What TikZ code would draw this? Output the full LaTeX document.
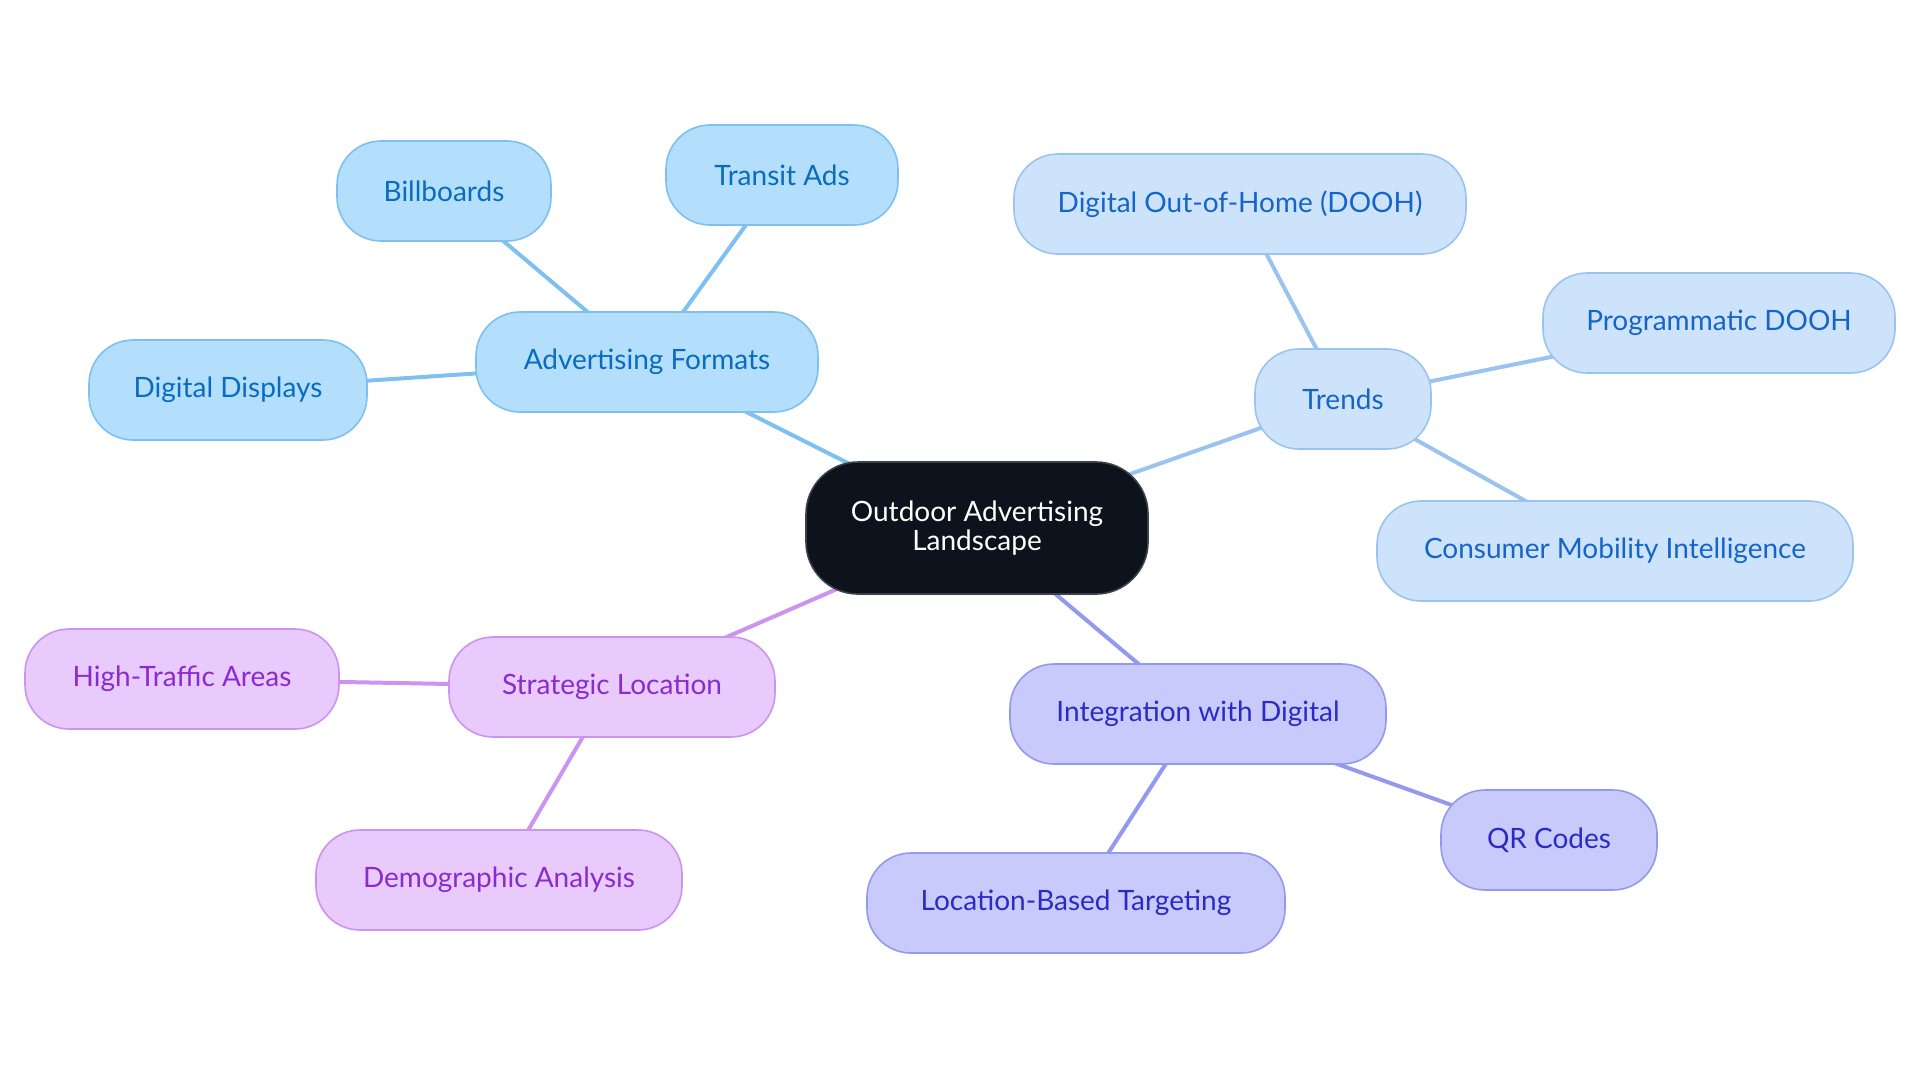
\documentclass[tikz,border=0pt]{standalone}
\usepackage{xcolor}
\usepackage{fontspec}
\setmainfont{Lato}
\usepackage{tikz}
\usetikzlibrary{backgrounds}

\definecolor{rootfill}{HTML}{0D131C}
\definecolor{rootdraw}{HTML}{3C4148}
\definecolor{fmtfill}{HTML}{B3DFFD}
\definecolor{fmtdraw}{HTML}{7EC0F0}
\definecolor{fmttext}{HTML}{0A6BBF}
\definecolor{trdfill}{HTML}{CDE3FC}
\definecolor{trddraw}{HTML}{9BC3F0}
\definecolor{trdtext}{HTML}{1565C8}
\definecolor{digfill}{HTML}{C8CAFC}
\definecolor{digdraw}{HTML}{9499F0}
\definecolor{digtext}{HTML}{2B2BC4}
\definecolor{locfill}{HTML}{E8CAFC}
\definecolor{locdraw}{HTML}{CC94F0}
\definecolor{loctext}{HTML}{8A2BCF}

\tikzset{
  pill/.style={rounded corners=22pt, minimum height=50pt, inner sep=0pt,
    line width=0.8pt, font=\fontsize{14pt}{14.5pt}\selectfont, align=center},
  rootbox/.style={pill, fill=rootfill, draw=rootdraw, text=white, minimum height=66pt, rounded corners=26pt},
  fmtbox/.style={pill, fill=fmtfill, draw=fmtdraw, text=fmttext},
  trdbox/.style={pill, fill=trdfill, draw=trddraw, text=trdtext},
  digbox/.style={pill, fill=digfill, draw=digdraw, text=digtext},
  locbox/.style={pill, fill=locfill, draw=locdraw, text=loctext},
  link/.style={line width=2pt}
}

\begin{document}
\begin{tikzpicture}[x=0.5pt,y=0.5pt,yscale=-1,xscale=1]
\useasboundingbox (0,0) rectangle (1920,1083);

% Root
\node[rootbox, minimum width=171pt] (root) at (977,528) {Outdoor Advertising\\Landscape};

% Advertising Formats
\node[fmtbox, minimum width=171pt] (formats) at (647,362) {Advertising Formats};
\node[fmtbox, minimum width=107pt] (billboards) at (444,191) {Billboards};
\node[fmtbox, minimum width=116pt] (transit) at (782,175) {Transit Ads};
\node[fmtbox, minimum width=139pt] (displays) at (228,390) {Digital Displays};

% Trends
\node[trdbox, minimum width=88pt] (trends) at (1343,399) {Trends};
\node[trdbox, minimum width=226pt] (dooh) at (1240,204) {Digital Out-of-Home (DOOH)};
\node[trdbox, minimum width=176pt] (pdooh) at (1719,323) {Programmatic DOOH};
\node[trdbox, minimum width=238pt] (mobility) at (1615,551) {Consumer Mobility Intelligence};

% Integration with Digital
\node[digbox, minimum width=188pt] (digital) at (1198,714) {Integration with Digital};
\node[digbox, minimum width=108pt] (qr) at (1549,840) {QR Codes};
\node[digbox, minimum width=209pt] (targeting) at (1076,903) {Location-Based Targeting};

% Strategic Location
\node[locbox, minimum width=163pt] (strategic) at (612,687) {Strategic Location};
\node[locbox, minimum width=157pt] (traffic) at (182,679) {High-Traffic Areas};
\node[locbox, minimum width=183pt] (demo) at (499,880) {Demographic Analysis};

% Connectors
\begin{pgfonlayer}{background}
\draw[link, fmtdraw] (root.center) -- (formats.center);
\draw[link, fmtdraw] (formats.center) -- (billboards.center);
\draw[link, fmtdraw] (formats.center) -- (transit.center);
\draw[link, fmtdraw] (formats.center) -- (displays.center);
\draw[link, trddraw] (root.center) -- (trends.center);
\draw[link, trddraw] (trends.center) -- (dooh.center);
\draw[link, trddraw] (trends.center) -- (pdooh.center);
\draw[link, trddraw] (trends.center) -- (mobility.center);
\draw[link, digdraw] (root.center) -- (digital.center);
\draw[link, digdraw] (digital.center) -- (qr.center);
\draw[link, digdraw] (digital.center) -- (targeting.center);
\draw[link, locdraw] (root.center) -- (strategic.center);
\draw[link, locdraw] (strategic.center) -- (traffic.center);
\draw[link, locdraw] (strategic.center) -- (demo.center);
\end{pgfonlayer}

\end{tikzpicture}
\end{document}
